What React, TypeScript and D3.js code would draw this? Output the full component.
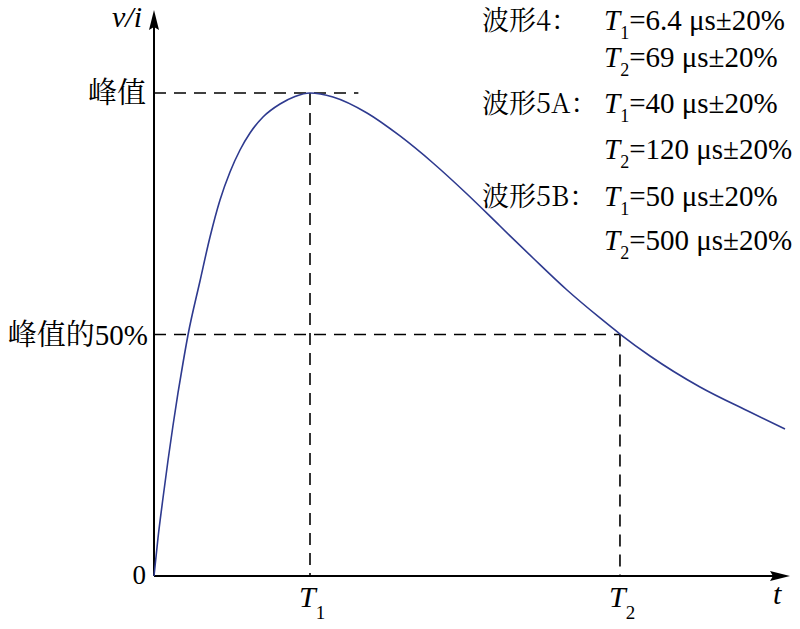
import React from 'react';
import * as d3 from 'd3';

// waveform: t in units of T1, amplitude relative to peak
const waveT = [0, 0.0256, 0.0577, 0.0897, 0.1218, 0.1538, 0.1859, 0.2179, 0.2949, 0.359, 0.4231, 0.4872, 0.5513, 0.6154,
  0.6987, 0.8077, 0.9038, 1, 1.1474, 1.3654, 1.5769, 1.7885, 2.0064, 2.2179, 2.4295, 2.6474, 2.859, 2.9872, 3.1795,
  3.5, 3.8205, 4.0449];
const waveV = [0, 0.0787, 0.1615, 0.2391, 0.3116, 0.3789, 0.441, 0.499, 0.6108, 0.7019, 0.7785, 0.8364, 0.882, 0.9172,
  0.9503, 0.9772, 0.9928, 1, 0.9917, 0.9586, 0.911, 0.8551, 0.7909, 0.7246, 0.6584, 0.5921, 0.5342, 0.501, 0.4555,
  0.3913, 0.3395, 0.3043];

const T1 = 1;
const T2 = 2.987;
const peakLineEnd = 1.31;

const waveNames = ['波形4：', '', '波形5A：', '', '波形5B：', ''];
const waveSubs = ['1', '2', '1', '2', '1', '2'];
const waveVals = ['=6.4 μs±20%', '=69 μs±20%', '=40 μs±20%', '=120 μs±20%', '=50 μs±20%', '=500 μs±20%'];
const lineBase = [30, 67, 113, 159, 206, 250];

const LAT = { fontFamily: "'Liberation Serif'" };
const CJK = { fontFamily: "'Noto Serif CJK SC'" };

export default function App() {
  const ox = 154;
  const oy = 576;
  const x = d3.scaleLinear().domain([0, 1]).range([ox, 310]);
  const y = d3.scaleLinear().domain([0, 1]).range([oy, 93]);

  const pts: [number, number][] = waveT.map((t, i) => [t, waveV[i]]);
  const line = d3.line<[number, number]>()
    .x(d => x(d[0]))
    .y(d => y(d[1]))
    .curve(d3.curveMonotoneX);

  const dash = '12,8';

  return (
    <svg width={800} height={629} style={{ position: 'absolute', left: 0, top: 0, background: '#fff' }}>
      {/* dashed guides */}
      <g stroke="#000" strokeWidth={1.6} strokeDasharray={dash} fill="none">
        <line x1={ox} x2={x(peakLineEnd)} y1={y(1)} y2={y(1)} />
        <line x1={x(T1)} x2={x(T1)} y1={y(1)} y2={oy} />
        <line x1={ox} x2={x(T2)} y1={y(0.5)} y2={y(0.5)} />
        <line x1={x(T2)} x2={x(T2)} y1={y(0.5)} y2={oy} />
      </g>

      {/* axes */}
      <g stroke="#000" strokeWidth={2} fill="none">
        <line x1={ox} x2={ox} y1={oy} y2={24} />
        <line x1={ox} x2={776} y1={oy} y2={oy} />
      </g>
      <path d={`M${ox},10 L${ox + 5},30 L${ox},27 L${ox - 5},30 Z`} fill="#000" />
      <path d={`M790,${oy} L770,${oy - 5} L773,${oy} L770,${oy + 5} Z`} fill="#000" />

      {/* curve */}
      <path d={line(pts) || ''} fill="none" stroke="#2e3a8f" strokeWidth={1.6} />

      {/* y labels */}
      <text x={ox - 8} y={oy + 8} textAnchor="end" fontSize={27} style={LAT}>0</text>
      <text x={ox - 8} y={y(1) + 10} textAnchor="end" fontSize={29} style={CJK}>峰值</text>
      <text x={ox - 6} y={y(0.5) + 10} textAnchor="end" fontSize={29} style={LAT}>
        <tspan style={CJK}>峰值的</tspan>50%
      </text>
      <text x={112} y={27} fontSize={30} fontStyle="italic" style={LAT}>v/i</text>
      <text x={773} y={604} fontSize={30} fontStyle="italic" style={LAT}>t</text>

      {/* x labels */}
      {[T1, T2].map((tv, i) => (
        <text key={i} x={x(tv) - 11} y={607} fontSize={30} style={LAT}>
          <tspan fontStyle="italic">T</tspan>
          <tspan fontSize={19} dy={12}>{i + 1}</tspan>
        </text>
      ))}

      {/* parameter list */}
      {waveVals.map((v, i) => (
        <g key={i}>
          {waveNames[i] && <text x={482} y={lineBase[i]} fontSize={27} style={CJK}>{waveNames[i]}</text>}
          <text x={604} y={lineBase[i]} fontSize={29} style={LAT}>
            <tspan fontStyle="italic">T</tspan>
            <tspan fontSize={18} dy={9}>{waveSubs[i]}</tspan>
            <tspan dy={-9}>{v}</tspan>
          </text>
        </g>
      ))}
    </svg>
  );
}
